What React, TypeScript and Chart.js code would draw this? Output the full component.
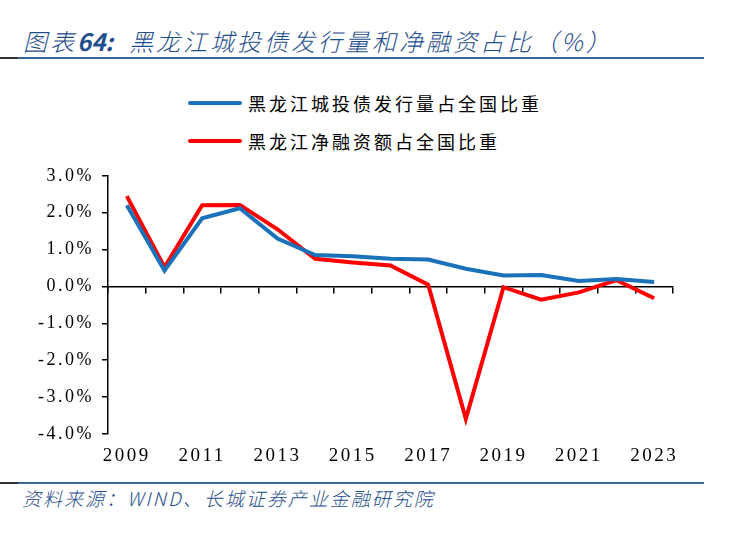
import React, { useEffect, useRef } from 'react';
import { Chart, registerables } from 'chart.js';

Chart.register(...registerables);

const years = ['2009', '2010', '2011', '2012', '2013', '2014', '2015', '2016', '2017', '2018', '2019', '2020', '2021', '2022', '2023'];
const issuanceShare = [2.2, 0.43, 1.85, 2.12, 1.3, 0.85, 0.82, 0.75, 0.73, 0.48, 0.3, 0.31, 0.15, 0.2, 0.12];
const netFinancingShare = [2.45, 0.52, 2.2, 2.21, 1.55, 0.75, 0.65, 0.57, 0.05, -3.59, -0.02, -0.36, -0.16, 0.17, -0.32];
const seriesNames = ['黑龙江城投债发行量占全国比重', '黑龙江净融资额占全国比重'];
const seriesColors = ['#1a72bb', '#ff0000'];

const titleBlue = '#1f4e8c';
const serif = '"Liberation Serif", "DejaVu Serif", serif';
const cjk = '"Noto Sans CJK SC", sans-serif';

// the source uses a wide SimSun-like face; widen the canvas text a little
const spacingPlugin = {
  id: 'tickSpacing',
  beforeLayout: (chart: Chart) => {
    (chart.ctx as any).letterSpacing = '2.5px';
  },
  beforeDraw: (chart: Chart) => {
    (chart.ctx as any).letterSpacing = '2.5px';
  },
};

const LineChart: React.FC = () => {
  const canvasRef = useRef<HTMLCanvasElement | null>(null);
  const chartRef = useRef<Chart | null>(null);

  useEffect(() => {
    document.body.style.margin = '0';
    if (!canvasRef.current) return;
    const ctx = canvasRef.current.getContext('2d');
    if (!ctx) return;

    chartRef.current = new Chart(ctx, {
      type: 'line',
      data: {
        labels: years,
        datasets: [
          {
            label: seriesNames[0],
            data: issuanceShare,
            borderColor: seriesColors[0],
            borderWidth: 4,
            pointRadius: 0,
            tension: 0,
          },
          {
            label: seriesNames[1],
            data: netFinancingShare,
            borderColor: seriesColors[1],
            borderWidth: 4,
            pointRadius: 0,
            tension: 0,
          },
        ],
      },
      plugins: [spacingPlugin],
      options: {
        animation: false,
        responsive: false,
        devicePixelRatio: 1,
        layout: { padding: { top: 10, right: 17, left: 0, bottom: 0 } },
        plugins: { legend: { display: false }, tooltip: { enabled: false } },
        scales: {
          x: {
            type: 'category',
            offset: true,
            border: { display: false },
            grid: { display: false },
            ticks: {
              autoSkip: false,
              maxRotation: 0,
              color: '#000',
              padding: 3,
              font: { family: serif, size: 19 },
              callback: (_v, i) => (i % 2 === 0 ? years[i] : ''),
            },
            afterFit: (scale) => {
              scale.height = 40;
            },
          },
          x0: {
            type: 'category',
            axis: 'x',
            position: { y: 0 },
            offset: true,
            border: { display: true, color: '#000', width: 1.5 },
            grid: { offset: true, drawOnChartArea: false, drawTicks: true, tickLength: 6, color: '#000', lineWidth: 1.5 },
            ticks: { display: false },
            afterFit: (scale) => {
              scale.height = 0;
            },
          },
          y: {
            min: -4,
            max: 3,
            border: { display: true, color: '#000', width: 1.5 },
            grid: { drawOnChartArea: false, drawTicks: true, tickLength: 6, color: '#000', lineWidth: 1.5 },
            ticks: {
              stepSize: 1,
              color: '#000',
              padding: 8,
              font: { family: serif, size: 18 },
              callback: (v) => Number(v).toFixed(1) + '%',
            },
            afterFit: (scale) => {
              scale.width = 78;
            },
          },
        },
      },
    });

    return () => {
      if (chartRef.current) {
        chartRef.current.destroy();
        chartRef.current = null;
      }
    };
  }, []);

  return (
    <canvas
      ref={canvasRef}
      width={660}
      height={317}
      style={{ position: 'absolute', left: 30, top: 157, width: 660, height: 317 }}
    />
  );
};

const App: React.FC = () => {
  const legendRow = (i: number, top: number) => (
    <div style={{ position: 'absolute', left: 188, top, display: 'flex', alignItems: 'center' }}>
      <div style={{ width: 54, height: 4, borderRadius: 2, background: seriesColors[i] }} />
      <span style={{ marginLeft: 6, fontFamily: cjk, fontSize: 18, letterSpacing: 3, color: '#000', lineHeight: '24px' }}>
        {seriesNames[i]}
      </span>
    </div>
  );

  return (
    <div style={{ position: 'relative', width: 738, height: 538, background: '#fff', overflow: 'hidden' }}>
      <div
        style={{
          position: 'absolute',
          left: 23,
          top: 26,
          fontFamily: cjk,
          fontStyle: 'italic',
          fontWeight: 300,
          fontSize: 24,
          letterSpacing: 3,
          color: titleBlue,
          whiteSpace: 'nowrap',
          lineHeight: '30px',
        }}
      >
        图表<b style={{ fontWeight: 700, letterSpacing: 0 }}>64:</b>
        <span style={{ marginLeft: 16 }}>黑龙江城投债发行量和净融资占比（%）</span>
      </div>
      <div style={{ position: 'absolute', left: 0, top: 57, width: 18, height: 2, background: '#333' }} />
      <div style={{ position: 'absolute', left: 18, top: 57, width: 686, height: 2, background: '#3b6a9a' }} />

      {legendRow(0, 91)}
      {legendRow(1, 129)}

      <LineChart />

      <div style={{ position: 'absolute', left: 0, top: 482, width: 18, height: 2, background: '#333' }} />
      <div style={{ position: 'absolute', left: 18, top: 482, width: 686, height: 2, background: '#3b6a9a' }} />
      <div
        style={{
          position: 'absolute',
          left: 22,
          top: 485,
          fontFamily: cjk,
          fontStyle: 'italic',
          fontWeight: 300,
          fontSize: 19,
          letterSpacing: 2,
          color: titleBlue,
          whiteSpace: 'nowrap',
          lineHeight: '26px',
        }}
      >
        资料来源：WIND、长城证券产业金融研究院
      </div>
    </div>
  );
};

export default App;
